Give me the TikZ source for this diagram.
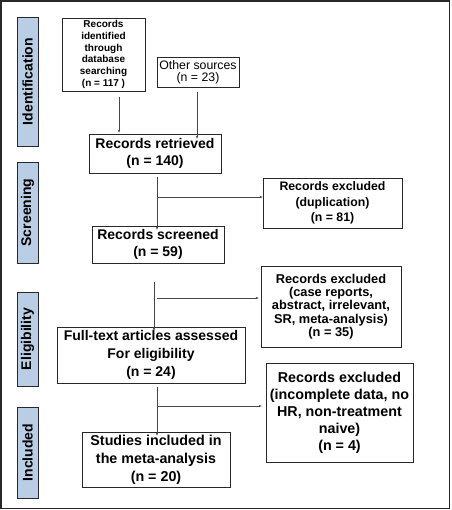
\documentclass[tikz,border=0pt]{standalone}
\usepackage{fontspec}
\setmainfont{Liberation Sans}
\usepackage{xcolor}
\usetikzlibrary{arrows.meta}
\usetikzlibrary{positioning}

\definecolor{stageblue}{RGB}{185,205,229}
\definecolor{framegray}{RGB}{40,40,40}
\definecolor{linegray}{RGB}{70,70,70}

\newcommand{\fsz}[2]{\fontsize{#1}{#2}\selectfont}

\begin{document}
\begin{tikzpicture}[
	x=1pt, y=-1pt,
	font=\bfseries,
	thin
]
\tikzset{
    stagebox/.style = {draw=framegray, fill=stageblue, rotate=90, inner sep=0pt,
		font=\bfseries\fsz{14}{16}, minimum height=21pt},
    flowbox/.style = {draw=framegray, fill=white, align=center, inner sep=0pt, line width=0.6pt},
    arr/.style = {draw=linegray, line width=0.6pt, -{Stealth[length=3pt,width=2.4pt]}}
}
\useasboundingbox (0,0) rectangle (451,510);
\draw[framegray, line width=1.2pt] (1,1) rectangle (449.5,508.5);

% stage labels
\node[stagebox, minimum width=129pt] (ident)  at (27.5,81.5)  {Identification};
\node[stagebox, minimum width=101pt] (screen) at (27.5,212.5) {Screening};
\node[stagebox, minimum width=94pt]  (elig)   at (27.5,339)   {Eligibility};
\node[stagebox, minimum width=91pt]  (incl)   at (27.5,452.5) {Included};

% boxes
\node[flowbox, minimum width=83pt, minimum height=73pt, font=\bfseries\fsz{10}{11.7}] (dbsearch) at (103.5,54.5)
	{Records\\identified\\through\\database\\searching\\(n = 117 )};
\node[flowbox, minimum width=82pt, minimum height=30pt, font=\mdseries\fsz{12.3}{12.3}] (other) at (198,72)
	{Other sources\\(n = 23)};
\node[flowbox, minimum width=132pt, minimum height=39pt, font=\bfseries\fsz{14}{17.5}] (retrieved) at (155,153.5)
	{Records retrieved\\(n = 140)};
\node[flowbox, minimum width=139pt, minimum height=50pt, font=\bfseries\fsz{12.3}{15.8}] (exdup) at (332.5,203)
	{Records excluded\\(duplication)\\(n = 81)};
\node[flowbox, minimum width=132pt, minimum height=37pt, font=\bfseries\fsz{14}{17.5}] (screened) at (158,244.5)
	{Records screened\\(n = 59)};
\node[flowbox, minimum width=140pt, minimum height=81pt, font=\bfseries\fsz{12.8}{13.3}] (excase) at (331,306.5)
	{Records excluded\\(case reports,\\abstract, irrelevant,\\SR, meta-analysis)\\(n = 35)};
\node[flowbox, minimum width=188pt, minimum height=56pt, font=\bfseries\fsz{14}{18}] (fulltext) at (151,355)
	{Full-text articles assessed\\For eligibility\\(n = 24)};
\node[flowbox, minimum width=147pt, minimum height=99pt, font=\bfseries\fsz{14.3}{17}] (exincomp) at (339.5,412.5)
	{Records excluded\\(incomplete data, no\\HR, non-treatment\\naive)\\(n = 4)};
\node[flowbox, minimum width=148pt, minimum height=55pt, font=\bfseries\fsz{14.3}{17.8}] (studies) at (156,459.5)
	{Studies included in\\the meta-analysis\\(n = 20)};

% connectors
\coordinate (s1) at (119,97);
\coordinate (s2) at (197,92);
\coordinate (v1) at (157,177);
\coordinate (b1) at (158,197);
\coordinate (v2) at (154,282);
\coordinate (b2) at (157,298);
\coordinate (v3) at (157,387);
\coordinate (b3) at (158,406);
\draw[arr] (s1) -- ([yshift=1pt]s1 |- retrieved.north);
\draw[arr] (s2) -- ([yshift=-5pt]s2 |- retrieved.north);
\draw[arr] (v1) -- ([yshift=-4pt]v1 |- screened.north);
\draw[arr] (b1) -- (b1 -| exdup.west);
\draw[arr] (v2) -- ([yshift=-4pt]v2 |- fulltext.north);
\draw[arr] (b2) -- ([xshift=-2pt]b2 -| excase.west);
\draw[arr] (v3) -- ([yshift=-4pt]v3 |- studies.north);
\draw[arr] (b3) -- ([xshift=-4pt]b3 -| exincomp.west);
\end{tikzpicture}
\end{document}
